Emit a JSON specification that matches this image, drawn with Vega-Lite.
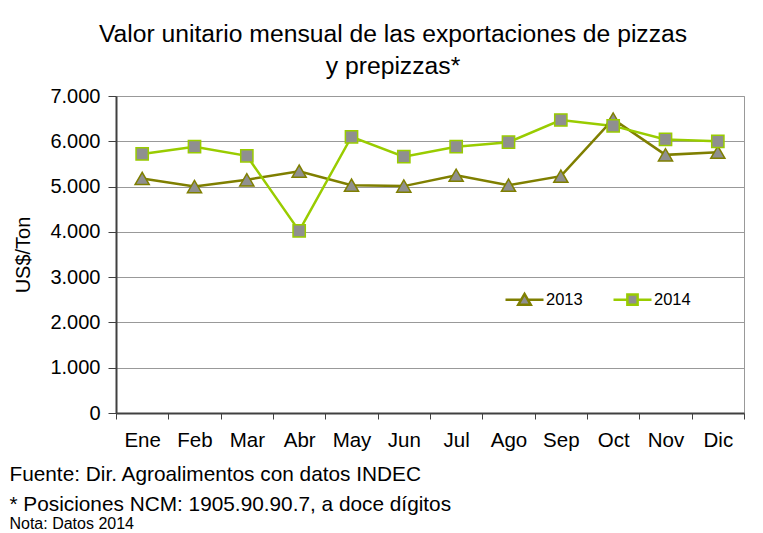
{
  "$schema": "https://vega.github.io/schema/vega-lite/v6.json",
  "background": "white",
  "padding": {"left": 9, "top": 21, "right": 5, "bottom": 0},
  "config": {
    "font": "Liberation Sans",
    "view": {"stroke": "#999999", "strokeWidth": 1}
  },
  "title": {
    "text": ["Fuente: Dir. Agroalimentos con datos INDEC", "* Posiciones NCM:  1905.90.90.7, a doce dígitos"],
    "subtitle": "Nota: Datos 2014",
    "orient": "bottom",
    "anchor": "start",
    "frame": "bounds",
    "fontSize": 20.8,
    "fontWeight": "normal",
    "color": "black",
    "lineHeight": 30,
    "subtitleFontSize": 16,
    "subtitleColor": "black",
    "subtitlePadding": 0,
    "offset": 14,
    "dx": -4
  },
  "vconcat": [
    {
      "width": 628,
      "height": 317,
      "title": {
        "text": ["Valor unitario mensual de las exportaciones de pizzas", "y prepizzas*"],
        "fontSize": 24.7,
        "fontWeight": "normal",
        "color": "black",
        "lineHeight": 32,
        "offset": 7,
        "anchor": "middle",
        "frame": "group",
        "dx": -37
      },
      "data": {
        "values": [
          {"mes": "Ene", "anio": "2013", "valor": 5180},
          {"mes": "Feb", "anio": "2013", "valor": 5000},
          {"mes": "Mar", "anio": "2013", "valor": 5150},
          {"mes": "Abr", "anio": "2013", "valor": 5340},
          {"mes": "May", "anio": "2013", "valor": 5030},
          {"mes": "Jun", "anio": "2013", "valor": 5010},
          {"mes": "Jul", "anio": "2013", "valor": 5250},
          {"mes": "Ago", "anio": "2013", "valor": 5030},
          {"mes": "Sep", "anio": "2013", "valor": 5230},
          {"mes": "Oct", "anio": "2013", "valor": 6490},
          {"mes": "Nov", "anio": "2013", "valor": 5700},
          {"mes": "Dic", "anio": "2013", "valor": 5760},
          {"mes": "Ene", "anio": "2014", "valor": 5720},
          {"mes": "Feb", "anio": "2014", "valor": 5880},
          {"mes": "Mar", "anio": "2014", "valor": 5680},
          {"mes": "Abr", "anio": "2014", "valor": 4020},
          {"mes": "May", "anio": "2014", "valor": 6100},
          {"mes": "Jun", "anio": "2014", "valor": 5660},
          {"mes": "Jul", "anio": "2014", "valor": 5880},
          {"mes": "Ago", "anio": "2014", "valor": 5980},
          {"mes": "Sep", "anio": "2014", "valor": 6470},
          {"mes": "Oct", "anio": "2014", "valor": 6340},
          {"mes": "Nov", "anio": "2014", "valor": 6040},
          {"mes": "Dic", "anio": "2014", "valor": 6000}
        ]
      },
      "encoding": {
        "x": {
          "field": "mes",
          "type": "nominal",
          "sort": ["Ene", "Feb", "Mar", "Abr", "May", "Jun", "Jul", "Ago", "Sep", "Oct", "Nov", "Dic"],
          "scale": {"type": "band", "paddingInner": 0, "paddingOuter": 0},
          "axis": {
            "title": null,
            "labelAngle": 0,
            "labelFontSize": 20.5,
            "labelColor": "black",
            "labelPadding": 11,
            "tickBand": "extent",
            "tickSize": 6,
            "tickColor": "#404040",
            "domainColor": "#404040",
            "domainWidth": 2,
            "grid": false
          }
        },
        "y": {
          "field": "valor",
          "type": "quantitative",
          "scale": {"domain": [0, 7000], "nice": false},
          "axis": {
            "title": "US$/Ton",
            "titleFontSize": 20,
            "titleFontWeight": "normal",
            "titleColor": "black",
            "titlePadding": 16,
            "values": [0, 1000, 2000, 3000, 4000, 5000, 6000, 7000],
            "labelExpr": "replace(format(datum.value, ','), ',', '.')",
            "labelFontSize": 20,
            "labelColor": "black",
            "labelPadding": 8,
            "tickSize": 8,
            "tickColor": "#404040",
            "domainColor": "#404040",
            "domainWidth": 2,
            "gridColor": "#999999",
            "gridWidth": 1
          }
        },
        "stroke": {
          "field": "anio",
          "type": "nominal",
          "scale": {"domain": ["2013", "2014"], "range": ["#7f7f00", "#99cc00"]},
          "legend": {
            "title": null,
            "orient": "none",
            "legendX": 388,
            "legendY": 183,
            "direction": "horizontal",
            "labelFontSize": 16.5,
            "labelColor": "black",
            "labelOffset": 1,
            "columnPadding": 25,
            "symbolSize": 1444,
            "symbolStrokeWidth": 2.5,
            "encode": {
              "symbols": {
                "update": {
                  "shape": {"signal": "datum.label == '2013' ? 'M-1,0H-0.17M0.17,0H1M0,-0.3L0.33,0.27L-0.33,0.27Z' : 'M-1,0H-0.27M0.27,0H1M-0.27,-0.27H0.27V0.27H-0.27Z'"},
                  "fill": {"value": "#8f8f8f"},
                  "strokeWidth": {"value": 2.5}
                }
              }
            }
          }
        }
      },
      "layer": [
        {
          "mark": {"type": "line", "strokeWidth": 2.5}
        },
        {
          "transform": [{"filter": "datum.anio == '2013'"}],
          "mark": {"type": "point", "shape": "triangle-up", "size": 200, "filled": true, "fill": "#8f8f8f", "opacity": 1, "strokeWidth": 1.5}
        },
        {
          "transform": [{"filter": "datum.anio == '2014'"}],
          "mark": {"type": "point", "shape": "square", "size": 150, "filled": true, "fill": "#8f8f8f", "opacity": 1, "strokeWidth": 1.5}
        }
      ]
    }
  ]
}
